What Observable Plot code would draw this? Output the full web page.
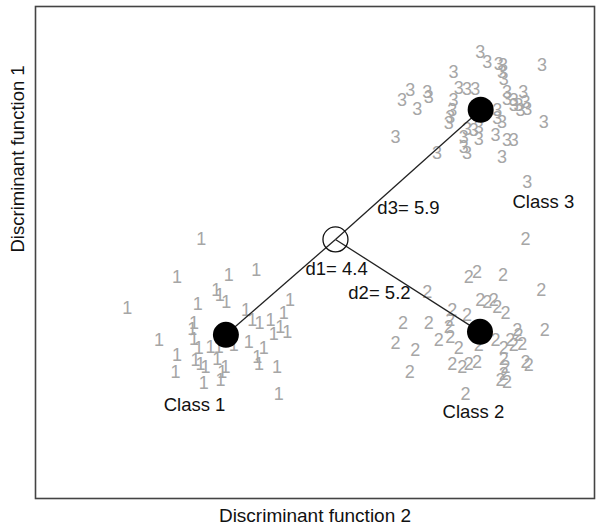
<!DOCTYPE html>
<html>
<head>
<meta charset="utf-8">
<script src="https://cdn.jsdelivr.net/npm/d3@7"></script>
<script src="https://cdn.jsdelivr.net/npm/@observablehq/plot@0.6"></script>
<style>
  html, body { margin: 0; padding: 0; background: #fff; }
</style>
</head>
<body>
<div id="chart"></div>
<script>
// Discriminant scores of the observations, one array per class: [DF2, DF1]
const class1 = [
  [-4.07, 0.02], [-4.80, -1.14], [-3.23, -1.09], [-2.40, -0.94], [-6.31, -2.07],
  [-3.61, -1.55], [-3.51, -1.70], [-3.31, -1.90], [-4.17, -1.95], [-2.71, -2.15],
  [-1.38, -1.85], [-1.57, -2.25], [-4.29, -2.55], [-4.34, -2.71], [-2.52, -2.45],
  [-2.30, -2.55], [-1.97, -2.45], [-1.87, -2.86], [-1.67, -2.66], [-1.46, -2.81],
  [-5.35, -3.06], [-4.29, -3.01], [-4.14, -3.31], [-3.79, -3.26], [-3.54, -3.26],
  [-3.08, -3.21], [-2.63, -3.11], [-2.17, -3.31], [-2.37, -3.57], [-4.80, -3.52],
  [-4.85, -4.02], [-4.24, -3.67], [-4.09, -3.77], [-3.94, -3.87], [-3.58, -3.62],
  [-3.33, -3.87], [-3.43, -4.02], [-2.32, -3.77], [-1.77, -3.87], [-3.99, -4.37],
  [-3.48, -4.27], [-1.72, -4.68]
];
const class2 = [
  [5.76, 0.02], [4.04, -1.14], [4.29, -0.99], [5.08, -1.09], [6.24, -1.55],
  [2.78, -1.60], [4.39, -1.85], [4.60, -1.90], [4.80, -1.85], [4.90, -2.05],
  [5.15, -2.25], [3.54, -2.15], [3.99, -2.30], [3.48, -2.45], [3.43, -2.66],
  [2.05, -2.55], [2.83, -2.55], [6.34, -2.76], [5.51, -2.76], [5.55, -2.91],
  [1.82, -3.14], [3.13, -3.06], [3.48, -2.96], [4.85, -3.06], [5.30, -3.06],
  [5.66, -3.16], [3.74, -3.31], [2.42, -3.36], [4.34, -3.21], [5.10, -3.31],
  [5.40, -3.21], [5.10, -3.62], [3.54, -3.77], [3.84, -3.87], [4.04, -3.77],
  [4.29, -3.72], [5.15, -3.87], [5.76, -3.72], [5.86, -3.82], [2.25, -4.02],
  [5.00, -4.27], [5.20, -4.32], [3.94, -4.68], [5.10, -4.07]
];
const class3 = [
  [4.39, 5.68], [4.60, 5.37], [4.95, 5.32], [5.08, 5.27], [5.05, 5.07],
  [5.10, 4.87], [6.26, 5.27], [3.58, 5.07], [2.27, 4.52], [2.02, 4.21],
  [2.48, 3.96], [2.78, 4.46], [2.83, 4.31], [3.74, 4.57], [3.99, 4.54],
  [4.24, 4.54], [5.20, 4.46], [5.69, 4.46], [5.20, 4.26], [5.40, 4.21],
  [5.55, 4.06], [5.76, 4.16], [5.81, 3.96], [5.61, 3.91], [5.40, 4.06],
  [3.58, 4.21], [3.54, 3.91], [3.48, 3.71], [3.43, 3.51], [4.90, 3.91],
  [4.90, 3.66], [5.05, 3.55], [6.31, 3.55], [1.82, 3.10], [3.99, 3.35],
  [4.19, 3.30], [4.34, 3.40], [4.34, 3.05], [3.89, 3.10], [4.85, 3.15],
  [5.20, 3.00], [5.40, 3.00], [3.89, 2.80], [3.99, 2.60], [3.08, 2.60],
  [5.05, 2.49], [5.81, 1.74]
];

// Group centroids and the grand centroid (origin)
const classNames = ["Class 1", "Class 2", "Class 3"];
const centroidX = [-3.32, 4.38, 4.40];
const centroidY = [-2.89, -2.80, 3.93];
const origin = [0, 0];

// Distances from the grand centroid to each class centroid
const distLabels = ["d1= 4.4", "d2= 5.2", "d3= 5.9"];
const distLabelX = [-0.91, 0.39, 1.27];
const distLabelY = [-0.91, -1.61, 0.94];

// Where each class name is written
const nameX = [-4.27, 4.18, 6.30];
const nameY = [-5.03, -5.24, 1.12];

const points = [
  ...class1.map(([x, y]) => ({x, y, cls: "1"})),
  ...class2.map(([x, y]) => ({x, y, cls: "2"})),
  ...class3.map(([x, y]) => ({x, y, cls: "3"}))
];
const centroids = classNames.map((name, i) => ({name, x: centroidX[i], y: centroidY[i]}));
const dists = distLabels.map((text, i) => ({text, x: distLabelX[i], y: distLabelY[i]}));
const names = classNames.map((text, i) => ({text, x: nameX[i], y: nameY[i]}));

const font = "Arial, 'Liberation Sans', Helvetica, sans-serif";

const chart = Plot.plot({
  width: 598,
  height: 527,
  marginLeft: 35,
  marginRight: 4,
  marginTop: 6,
  marginBottom: 29,
  style: {fontFamily: font, background: "#fff"},
  x: {domain: [-9.09, 7.85], axis: null},
  y: {domain: [-7.85, 7.06], axis: null},
  marks: [
    Plot.text(points, {x: "x", y: "y", text: "cls", fill: "#a6a6a6", fontSize: 18}),
    Plot.link(centroids, {x1: origin[0], y1: origin[1], x2: "x", y2: "y", stroke: "#222", strokeWidth: 1.3}),
    Plot.dot(centroids, {x: "x", y: "y", r: 13, fill: "#000"}),
    Plot.dot([origin], {x: d => d[0], y: d => d[1], r: 12.5, fill: "none", stroke: "#111", strokeWidth: 1.3}),
    Plot.text(dists, {x: "x", y: "y", text: "text", textAnchor: "start", fill: "#111", fontSize: 18.5}),
    Plot.text(names, {x: "x", y: "y", text: "text", fill: "#111", fontSize: 18.5}),
    Plot.frame({stroke: "#444", strokeWidth: 1.6}),
    Plot.text(["Discriminant function 2"], {frameAnchor: "bottom", dy: 23, fill: "#111", fontSize: 19}),
    Plot.text(["Discriminant function 1"], {frameAnchor: "left", rotate: -90, dx: -17, fill: "#111", fontSize: 18.5})
  ]
});
document.getElementById("chart").appendChild(chart);
</script>
</body>
</html>
